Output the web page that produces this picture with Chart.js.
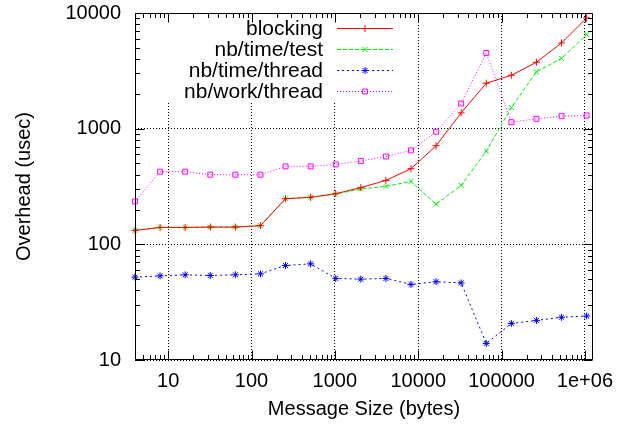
<!DOCTYPE html>
<html>
<head>
<meta charset="utf-8">
<script src="https://cdn.jsdelivr.net/npm/chart.js@4/dist/chart.umd.min.js"></script>
<style>
html, body { margin: 0; padding: 0; background: #fff; }
#wrap { width: 636px; height: 430px; }
</style>
</head>
<body>
<div id="wrap"><canvas id="overheadChart" width="636" height="430"></canvas></div>
<script>
// message sizes in bytes
const sizes = [4, 8, 16, 32, 64, 128, 256, 512, 1024, 2048, 4096, 8192,
  16384, 32768, 65536, 131072, 262144, 524288, 1048576];

// overhead in usec
const blocking = [132, 140, 140, 141, 141, 145, 248, 255, 274, 309, 357, 451,
  712, 1371, 2471, 2897, 3750, 5510, 9060];
const nbTimeTest = [132, 140, 140, 141, 141, 145, 248, 255, 272, 301, 317, 350,
  222, 324, 640, 1523, 3097, 4055, 6500];
const nbTimeThread = [52, 53.4, 54.5, 53.8, 54.5, 55.6, 65.6, 67.8, 50.7, 50, 50.7, 45,
  47.5, 46.4, 13.9, 20.7, 22, 23.4, 24];
const nbWorkThread = [235, 425, 425, 400, 400, 400, 472, 472, 491, 525, 575, 649,
  940, 1650, 4517, 1138, 1216, 1282, 1300];

const xTickValues = [10, 100, 1000, 10000, 100000, 1000000];
const xTickLabels = ['10', '100', '1000', '10000', '100000', '1e+06'];
const yTickValues = [10, 100, 1000, 10000];
const yTickLabels = ['10', '100', '1000', '10000'];

const FONT = '"Liberation Sans", Arial, Helvetica, sans-serif';

function points(values) {
  return sizes.map((s, i) => ({ x: s, y: values[i] }));
}

function minorValues(min, max) {
  const out = [];
  for (let d = Math.floor(Math.log10(min)); d <= Math.ceil(Math.log10(max)); d++) {
    for (let k = 2; k <= 9; k++) {
      const v = k * Math.pow(10, d);
      if (v > min && v < max) out.push(v);
    }
  }
  return out;
}

// gnuplot-like border with inside ticks, plus the opaque right-aligned key
const gnuplotFrame = {
  id: 'gnuplotFrame',
  beforeDatasetsDraw(chart) {
    const ctx = chart.ctx;
    ctx.save();
    ctx.fillStyle = '#fff';
    ctx.fillRect(137, 14, 263, 87);
    ctx.restore();
  },
  afterDatasetsDraw(chart) {
    const ctx = chart.ctx;
    const a = chart.chartArea;
    const xs = chart.scales.x, ys = chart.scales.y;
    const L = Math.round(a.left) + 0.5, R = Math.round(a.right) - 0.5;
    const T = Math.round(a.top) + 0.5, B = Math.round(a.bottom) - 0.5;
    ctx.save();
    ctx.strokeStyle = '#000';
    ctx.lineWidth = 1;
    ctx.setLineDash([]);
    ctx.beginPath();
    const tick = (vals, len, horiz) => {
      vals.forEach(v => {
        if (horiz) {
          const p = Math.round(xs.getPixelForValue(v)) + 0.5;
          ctx.moveTo(p, B); ctx.lineTo(p, B - len);
          ctx.moveTo(p, T); ctx.lineTo(p, T + len);
        } else {
          const p = Math.round(ys.getPixelForValue(v)) + 0.5;
          ctx.moveTo(L, p); ctx.lineTo(L + len, p);
          ctx.moveTo(R, p); ctx.lineTo(R - len, p);
        }
      });
    };
    tick(xTickValues, 9, true);
    tick(minorValues(xs.min, xs.max), 4.5, true);
    tick(yTickValues, 9, false);
    tick(minorValues(ys.min, ys.max), 4.5, false);
    ctx.rect(L, T, R - L, B - T);
    ctx.stroke();

    // key
    const textRight = 323, lineX0 = 337, lineX1 = 393, markX = 365;
    const rows = [28, 49, 70, 91];
    ctx.font = '21px ' + FONT;
    ctx.textAlign = 'right';
    ctx.textBaseline = 'middle';
    chart.data.datasets.forEach((ds, i) => {
      const y = rows[i] + 0.5;
      ctx.fillStyle = '#000';
      ctx.fillText(ds.label, textRight, rows[i] + 1);
      ctx.strokeStyle = ds.borderColor;
      ctx.lineWidth = ds.borderWidth;
      ctx.setLineDash(ds.borderDash || []);
      ctx.beginPath();
      ctx.moveTo(lineX0, y);
      ctx.lineTo(lineX1, y);
      ctx.stroke();
      ctx.setLineDash([]);
      ctx.fillStyle = ds.pointBackgroundColor;
      Chart.helpers.drawPoint(ctx, {
        pointStyle: ds.pointStyle, radius: ds.pointRadius,
        borderWidth: ds.pointBorderWidth, rotation: 0
      }, markX, y);
    });
    ctx.restore();
  }
};

function series(label, values, color, dash, style) {
  return {
    label: label,
    data: points(values),
    borderColor: color,
    borderWidth: 1,
    borderDash: dash,
    pointStyle: style,
    pointRadius: 3.5,
    pointBorderWidth: 1,
    pointBorderColor: color,
    pointBackgroundColor: 'rgba(0,0,0,0)',
    tension: 0,
    clip: false
  };
}

new Chart(document.getElementById('overheadChart'), {
  type: 'line',
  data: {
    datasets: [
      series('blocking', blocking, '#ff0000', [], 'cross'),
      series('nb/time/test', nbTimeTest, '#00ee00', [4, 2], 'crossRot'),
      series('nb/time/thread', nbTimeThread, '#0000ff', [2, 3], 'star'),
      series('nb/work/thread', nbWorkThread, '#ff00ff', [1, 2], 'rect')
    ]
  },
  options: {
    responsive: false,
    animation: false,
    devicePixelRatio: 1,
    layout: { padding: { top: 13, right: 43, left: 0, bottom: 0 } },
    plugins: {
      legend: { display: false },
      tooltip: { enabled: false }
    },
    scales: {
      x: {
        type: 'logarithmic',
        min: 4,
        max: 1250000,
        afterFit: s => { s.height = 70; s.paddingLeft = 0; s.paddingRight = 0; },
        afterBuildTicks: s => { s.ticks = xTickValues.map(v => ({ value: v })); },
        ticks: {
          autoSkip: false,
          maxRotation: 0,
          padding: 9,
          color: '#000',
          font: { family: FONT, size: 20 },
          callback: (v, i) => xTickLabels[i]
        },
        grid: { color: '#000', lineWidth: 1, drawTicks: false },
        border: { display: false, dash: [1, 2] },
        title: {
          display: true,
          text: 'Message Size (bytes)',
          color: '#000',
          font: { family: FONT, size: 20 },
          padding: { top: 0, bottom: 9 }
        }
      },
      y: {
        type: 'logarithmic',
        min: 10,
        max: 10000,
        afterFit: s => { s.width = 135; s.paddingTop = 0; s.paddingBottom = 0; },
        afterBuildTicks: s => { s.ticks = yTickValues.map(v => ({ value: v })); },
        ticks: {
          autoSkip: false,
          padding: 14,
          color: '#000',
          font: { family: FONT, size: 20 },
          callback: (v, i) => yTickLabels[i]
        },
        grid: { color: '#000', lineWidth: 1, drawTicks: false },
        border: { display: false, dash: [1, 2] },
        title: {
          display: true,
          text: 'Overhead (usec)',
          color: '#000',
          font: { family: FONT, size: 20 },
          padding: { top: 12, bottom: 0 }
        }
      }
    }
  },
  plugins: [gnuplotFrame]
});
</script>
</body>
</html>
